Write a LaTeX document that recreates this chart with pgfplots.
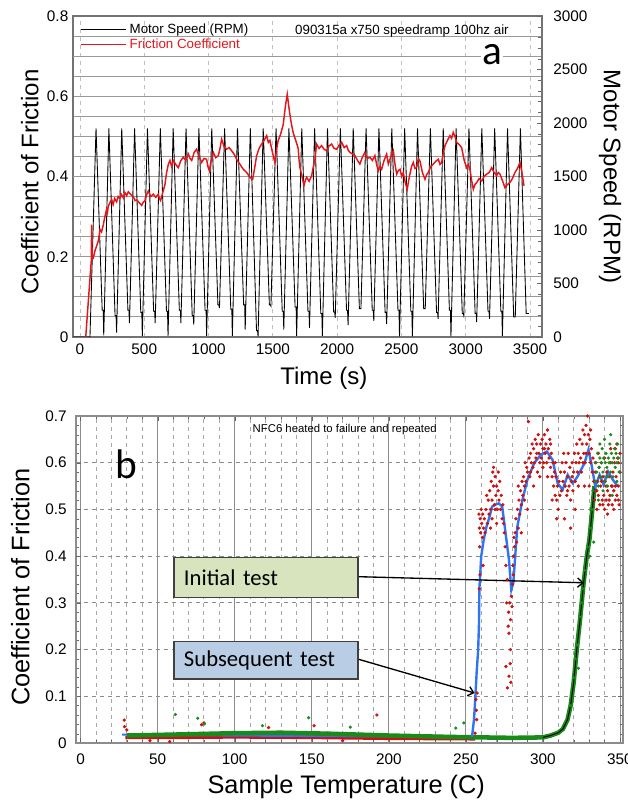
\documentclass[border=0pt]{standalone}
\usepackage{pgfplots}
\pgfplotsset{compat=1.18}
\usepackage{fontspec}
\setmainfont{Liberation Sans}
\newfontfamily\calibri{Carlito}
\usetikzlibrary{arrows.meta}
\definecolor{frred}{HTML}{E3161B}
\definecolor{rdot}{HTML}{CC1111}
\definecolor{gdot}{HTML}{1A8A1A}
\definecolor{bline}{HTML}{2F74F2}
\definecolor{boxgreen}{HTML}{D7E4BD}
\definecolor{boxblue}{HTML}{B9CDE5}
\definecolor{boxedge}{HTML}{404040}
\pgfplotsset{
  every axis/.append style={
    /pgf/number format/assume math mode=true,
    /pgf/number format/1000 sep={},
    scaled ticks=false,
    tick label style={font=\fontsize{11.5}{13}\selectfont},
    tick align=inside,
  },
}
\begin{document}
\begin{tikzpicture}
\useasboundingbox (0,0) rectangle (471pt,603pt);

% ---------- panel a: frame, grid, labels ----------
\begin{axis}[
    at={(54.75pt,350.25pt)}, anchor=south west, scale only axis,
    width=351.75pt, height=240.75pt,
    xmin=-54, xmax=3593, ymin=0, ymax=0.8,
    xtick={0,500,...,3500}, ytick={0,0.2,0.4,0.6,0.8},
    minor y tick num=3,
    xmajorgrids, ymajorgrids, yminorgrids,
    major x grid style={dashed, black!25, line width=0.6pt},
    major y grid style={black!40, line width=0.8pt},
    minor y grid style={black!40, line width=0.8pt},
    extra y ticks={0.4,0.7}, extra y tick labels={},
    extra y tick style={grid=major, major grid style={black!80, line width=0.9pt}},
    xtick pos=bottom, ytick pos=left, major tick length=0pt, minor tick length=0pt,
    axis line style={black!55, line width=0.8pt},
    xticklabel style={yshift=-1.5pt},
    xlabel={Time (s)}, ylabel={Coefficient of Friction},
    every axis x label/.style={at={(axis description cs:0.535,-0.128)}, anchor=center, font=\fontsize{18}{20}\selectfont},
    every axis y label/.style={at={(axis description cs:-0.092,0.483)}, anchor=center, rotate=90, font=\fontsize{18}{20}\selectfont},
    legend style={at={(axis description cs:0.012,0.99)}, anchor=north west, draw=none, fill=none,
      font=\fontsize{10}{11}\selectfont, row sep=-1.5pt, inner sep=1pt},
    legend cell align=left,
    legend image code/.code={\draw[#1] (0pt,0pt) -- (34pt,0pt);},
]
\addlegendimage{black, line width=0.8pt}
\addlegendimage{frred, line width=1.1pt}
\legend{Motor Speed (RPM), \textcolor{frred}{Friction Coefficient}}
\node[font=\fontsize{10}{11}\selectfont] at (axis cs:2504,0.762) {090315a x750 speedramp 100hz air};
\node[font=\calibri\fontsize{31}{32}\selectfont, fill=white, inner sep=1pt] at (axis cs:3204,0.703) {a};
\end{axis}

% ---------- panel a: motor speed (right axis) ----------
\begin{axis}[
    at={(54.75pt,350.25pt)}, anchor=south west, scale only axis,
    width=351.75pt, height=240.75pt,
    xmin=-54, xmax=3593, ymin=0, ymax=3000,
    axis y line*=right, axis x line=none,
    ytick={0,500,...,3000}, minor y tick num=4,
    major tick length=4pt, minor tick length=3pt,
    tick style={black!60},
    axis line style={black!55, line width=0.8pt},
    yticklabel style={xshift=5pt},
    ylabel={Motor Speed (RPM)},
    every axis y label/.style={at={(axis description cs:1.145,0.5)}, anchor=center, rotate=-90, font=\fontsize{18}{20}\selectfont},
]
\addplot[black, line width=0.65pt] coordinates {
 (-54,0) (0,0) (78,0) (125,1950)
 (173,250)(181,250)(185,15)(225,1950)
 (273,200)(281,200)(285,40)(325,1950)
 (373,250)(381,250)(385,130)(425,1950)
 (473,230)(481,230)(485,10)(525,1950)
 (573,240)(581,240)(585,130)(625,1950)
 (673,240)(681,240)(685,10)(725,1950)
 (773,250)(781,250)(785,130)(825,1950)
 (873,200)(881,200)(885,115)(925,1950)
 (973,250)(981,250)(985,10)(1025,1950)
 (1073,300)(1081,300)(1085,270)(1125,1950)
 (1173,260)(1181,260)(1185,10)(1225,1950)
 (1273,300)(1281,300)(1285,70)(1325,1950)
 (1373,60)(1381,60)(1385,5)(1425,1950)
 (1473,300)(1481,300)(1485,290)(1525,1950)
 (1573,240)(1581,240)(1585,70)(1625,1950)
 (1673,280)(1681,280)(1685,10)(1725,1950)
 (1773,240)(1781,240)(1785,85)(1825,1950)
 (1873,220)(1881,220)(1885,10)(1925,1950)
 (1973,234)(1981,234)(1985,180)(2025,1950)
 (2073,250)(2081,250)(2085,110)(2125,1950)
 (2173,265)(2181,265)(2185,265)(2225,1950)
 (2273,250)(2281,250)(2285,150)(2325,1950)
 (2373,230)(2381,230)(2385,120)(2425,1950)
 (2473,250)(2481,250)(2485,5)(2525,1950)
 (2573,240)(2581,240)(2585,5)(2625,1950)
 (2673,265)(2681,265)(2685,265)(2725,1950)
 (2773,230)(2781,230)(2785,170)(2825,1950)
 (2873,250)(2881,250)(2885,5)(2925,1950)
 (2973,218)(2981,218)(2985,200)(3025,1950)
 (3073,220)(3081,220)(3085,140)(3125,1950)
 (3173,240)(3181,240)(3185,170)(3225,1950)
 (3273,240)(3281,240)(3285,10)(3325,1950)
 (3373,187)(3381,187)(3385,187)(3425,1950)
 (3470,220)(3490,220)
};
\end{axis}

% ---------- panel a: friction coefficient ----------
\begin{axis}[
    at={(54.75pt,350.25pt)}, anchor=south west, scale only axis,
    width=351.75pt, height=240.75pt,
    xmin=-54, xmax=3593, ymin=0, ymax=0.8, hide axis,
]
\addplot[frred, line width=1.1pt] coordinates {
 (45,0) (88,0.19) (91,0.28) (95,0.2) (104,0.197) (117,0.215) (130,0.227) (143,0.24)
 (156,0.268) (168,0.262) (180,0.277) (194,0.3) (207,0.318) (214,0.31) (220,0.325)
 (233,0.335) (246,0.343) (258,0.33) (270,0.345) (285,0.337) (297,0.35) (310,0.345)
 (323,0.355) (337,0.347) (350,0.36) (363,0.352) (376,0.362) (395,0.355) (415,0.35)
 (428,0.34) (441,0.342) (460,0.335) (480,0.328) (493,0.336) (506,0.339) (519,0.355)
 (532,0.364) (550,0.35) (570,0.356) (590,0.348) (609,0.356) (618,0.345) (627,0.34)
 (644,0.36) (661,0.38) (674,0.41) (687,0.43) (700,0.44) (713,0.425) (726,0.44)
 (745,0.43) (765,0.422) (785,0.44) (804,0.448) (823,0.44) (843,0.456) (856,0.445)
 (869,0.44) (888,0.46) (907,0.468) (926,0.45) (946,0.435) (965,0.445) (985,0.443)
 (995,0.425) (1006,0.414) (1020,0.44) (1037,0.46) (1056,0.447) (1076,0.452) (1089,0.47)
 (1102,0.493) (1120,0.475) (1141,0.468) (1160,0.472) (1180,0.464) (1200,0.455)
 (1218,0.443) (1245,0.43) (1270,0.418) (1296,0.41) (1322,0.398) (1343,0.393)
 (1358,0.42) (1374,0.452) (1393,0.47) (1413,0.481) (1432,0.49) (1452,0.502) (1465,0.485)
 (1477,0.49) (1497,0.46) (1516,0.435) (1530,0.47) (1542,0.49) (1560,0.505) (1581,0.53)
 (1592,0.56) (1600,0.58) (1612,0.605) (1622,0.58) (1630,0.56) (1645,0.53) (1659,0.508)
 (1678,0.49) (1697,0.47) (1704,0.44) (1711,0.422) (1727,0.4) (1742,0.377) (1752,0.39)
 (1763,0.398) (1782,0.388) (1802,0.402) (1815,0.425) (1828,0.443) (1840,0.481)
 (1860,0.47) (1879,0.477) (1898,0.468) (1918,0.464) (1937,0.476) (1957,0.481)
 (1976,0.47) (1996,0.468) (2015,0.478) (2035,0.485) (2055,0.472) (2074,0.477) (2087,0.465)
 (2100,0.46) (2119,0.456) (2138,0.452) (2158,0.44) (2177,0.431) (2196,0.448) (2216,0.46)
 (2235,0.445) (2255,0.448) (2274,0.44) (2294,0.452) (2307,0.43) (2320,0.414) (2333,0.425)
 (2346,0.418) (2365,0.44) (2385,0.456) (2398,0.431) (2418,0.45) (2437,0.464) (2450,0.43)
 (2463,0.406) (2476,0.415) (2489,0.418) (2502,0.4) (2514,0.41) (2530,0.385) (2545,0.368)
 (2556,0.39) (2566,0.406) (2579,0.425) (2592,0.435) (2605,0.42) (2618,0.422) (2631,0.445)
 (2644,0.439) (2663,0.41) (2683,0.393) (2696,0.405) (2709,0.41) (2728,0.425) (2748,0.431)
 (2767,0.438) (2787,0.443) (2800,0.43) (2813,0.435) (2826,0.46) (2839,0.477) (2858,0.49)
 (2877,0.502) (2890,0.495) (2903,0.51) (2916,0.5) (2929,0.485) (2948,0.48) (2968,0.472)
 (2988,0.44) (3007,0.422) (3020,0.43) (3033,0.418) (3046,0.39) (3059,0.368) (3072,0.38)
 (3085,0.385) (3104,0.395) (3124,0.389) (3143,0.4) (3163,0.406) (3182,0.41) (3202,0.422)
 (3221,0.41) (3240,0.402) (3253,0.41) (3266,0.406) (3285,0.39) (3305,0.372) (3324,0.38)
 (3344,0.385) (3363,0.395) (3383,0.41) (3402,0.42) (3422,0.435) (3437,0.41) (3453,0.377)
};
\end{axis}

% ---------- panel b ----------
\begin{axis}[
    at={(57pt,45.75pt)}, anchor=south west, scale only axis,
    width=410.25pt, height=245.25pt,
    xmin=-3, xmax=352, ymin=0, ymax=0.7,
    xtick={0,50,...,350}, ytick={0,0.1,...,0.7},
    minor x tick num=4, minor y tick num=4,
    xmajorgrids, xminorgrids, ymajorgrids,
    major x grid style={black!45, line width=0.6pt},
    minor x grid style={dashed, black!35, line width=0.6pt},
    major y grid style={dashed, black!45, line width=0.6pt},
    extra y ticks={0.4}, extra y tick labels={},
    extra y tick style={grid=major, major grid style={dashed, black!75, line width=0.7pt}},
    major tick length=3.5pt, minor tick length=2.5pt,
    tick style={black!60},
    axis line style={black!45, line width=0.8pt},
    yticklabel style={xshift=-3.5pt},
    xticklabel style={yshift=-4.5pt},
    xlabel={Sample Temperature (C)}, ylabel={Coefficient of Friction},
    every axis x label/.style={at={(axis description cs:0.494,-0.135)}, anchor=center, font=\fontsize{19}{21}\selectfont},
    every axis y label/.style={at={(axis description cs:-0.102,0.477)}, anchor=center, rotate=90, font=\fontsize{19}{21}\selectfont},
]
% red raw data, subsequent test: dense baseline band and scattered points
\addplot[rdot, line width=2.6pt] coordinates {
 (29,0.012) (60,0.012) (100,0.013) (150,0.012) (200,0.010) (256,0.009)
};
\addplot[only marks, mark=*, mark size=1.05pt, rdot] coordinates {
 (28.3,0.049)(28.5,0.035)(30,0.028)(78.5,0.039)(80,0.043)(122,0.033)(151.5,0.037)(192.3,0.06)
 (57.8,0.003)(45,0.005)(170,0.005)(256.5,0.093)(257.3,0.107)(256,0.021)(257,0.05)(256.8,0.07)
 (258.5,0.49)(258.8,0.46)(259,0.42)(259.3,0.48)(259.6,0.45)(260,0.5)(260.3,0.47)(260.7,0.44)
 (261,0.49)(261.5,0.46)(262,0.48)(262.5,0.45)(263,0.5)(258.7,0.33)(259.2,0.36)(261.2,0.38)
 (264,0.47)(264.5,0.52)(265,0.49)(265.5,0.54)(266,0.5)(266.5,0.56)(267,0.52)(267.5,0.58)
 (268,0.55)(268.5,0.51)(269,0.57)(269.5,0.53)(270,0.55)(270.5,0.5)(271,0.54)(271.5,0.52)
 (272,0.56)(272.5,0.5)(273,0.53)(273.5,0.48)(274,0.51)(274.5,0.47)(275,0.45)(275.5,0.42)
 (276,0.38)(266,0.46)(270,0.47)(263.5,0.53)(267,0.48)(269,0.5)(271,0.58)(268,0.59)
 (276,0.164)(277,0.118)(278,0.143)(278,0.235)(279,0.264)(280,0.292)(279.6,0.314)(279,0.2)
 (277.5,0.25)(278.5,0.3)(280.2,0.34)(280.8,0.36)(281,0.4)(281.5,0.42)(276.5,0.3)(277,0.35)
 (277.8,0.28)(279.2,0.13)(278.8,0.17)(280.5,0.38)(281.2,0.44)
 (282,0.45)(282.5,0.48)(283,0.43)(283.5,0.5)(284,0.46)(284.5,0.52)(285,0.49)(285.5,0.54)
 (286,0.51)(286.5,0.56)(287,0.53)(287.5,0.57)(288,0.55)(288.5,0.6)(289,0.56)(289.5,0.59)
 (290,0.58)(290.6,0.688)(291,0.61)(291.5,0.57)(292,0.62)(292.5,0.6)(293,0.64)(293.5,0.59)
 (294,0.63)(294.5,0.6)(295,0.65)(295.5,0.61)(296,0.64)(296.5,0.58)(297,0.66)(297.5,0.62)
 (298,0.6)(298.5,0.64)(299,0.61)(299.5,0.65)(300,0.63)(286,0.45)(290,0.5)(294,0.55)(298,0.57)
 (284,0.55)(288,0.52)(292,0.58)(296,0.62)(300,0.59)
 (300.5,0.6)(301,0.66)(301.5,0.62)(302,0.64)(302.5,0.6)(303,0.67)(303.5,0.63)(304,0.61)
 (304.5,0.65)(305,0.59)(305.5,0.62)(306,0.57)(306.5,0.6)(307,0.55)(307.5,0.58)(308,0.53)
 (308.5,0.57)(309,0.52)(309.5,0.55)(310,0.5)(310.5,0.56)(311,0.53)(311.5,0.58)(312,0.54)
 (303,0.57)(306,0.52)(309,0.48)(301,0.63)(305,0.64)(308,0.6)
 (312.5,0.6)(313,0.56)(313.5,0.62)(314,0.58)(314.5,0.55)(315,0.6)(315.5,0.53)(316,0.57)
 (316.5,0.62)(317,0.55)(317.5,0.59)(318,0.52)(318.5,0.56)(319,0.6)(319.5,0.54)(320,0.58)
 (320.5,0.62)(321,0.56)(321.5,0.6)(322,0.64)(322.5,0.58)(323,0.62)(323.5,0.6)(324,0.65)
 (324.5,0.61)(325,0.58)(314,0.48)(318,0.46)(321,0.5)(316,0.54)(319,0.57)(323,0.55)
 (325.5,0.64)(326,0.67)(326.5,0.62)(327,0.66)(327.5,0.6)(328,0.68)(328.5,0.64)(329,0.7)
 (329.5,0.66)(330,0.62)(330.5,0.65)(331,0.6)(331.5,0.63)(332,0.58)(332.5,0.61)(333,0.56)
 (327,0.55)(330,0.55)(326,0.6)(328,0.62)(331,0.67)
 (333.5,0.52)(334,0.58)(334.5,0.54)(335,0.5)(335.5,0.56)(336,0.53)(336.5,0.59)(337,0.51)
 (337.5,0.55)(338,0.6)(338.5,0.52)(339,0.57)(339.5,0.53)(340,0.5)(340.5,0.56)(341,0.52)
 (341.5,0.58)(342,0.54)(342.5,0.51)(343,0.57)(343.5,0.53)(344,0.6)(344.5,0.55)(345,0.51)
 (345.5,0.58)(346,0.54)(346.5,0.6)(347,0.52)(347.5,0.57)(348,0.53)(348.5,0.61)(349,0.55)
 (349.5,0.51)(350,0.58)(336,0.62)(340,0.61)(344,0.63)(348,0.64)(342,0.49)(346,0.5)
 (338,0.56)(334,0.6)(350,0.62)(349,0.6)(347,0.63)(335,0.54)(337,0.57)(339,0.51)(341,0.55)
 (343,0.52)(345,0.55)(347,0.55)(349,0.52)
};
% smoothed subsequent test, baseline part
\addplot[bline, line width=1.6pt] coordinates {
 (27,0.018)(60,0.017)(100,0.016)(150,0.015)(200,0.014)(254,0.013)
};
% green raw data, initial test
\addplot[gdot, line width=3.4pt] coordinates {
 (30,0.016)(60,0.018)(100,0.021)(130,0.022)(160,0.020)(200,0.016)(240,0.013)(280,0.011)
 (300,0.012)(305,0.016)(310,0.022)(313,0.03)(316,0.05)(318,0.08)(320,0.13)(322,0.2)
 (324,0.26)(326.5,0.345)(328.5,0.4)(330.2,0.435)(331.8,0.49)(333.5,0.55)
};
\addplot[only marks, mark=*, mark size=1pt, gdot] coordinates {
 (61.5,0.061)(76,0.053)(80.4,0.041)(118,0.037)(148,0.054)(175,0.034)(243.5,0.032)(248.7,0.043)
 (318,0.08)(320,0.14)(321,0.18)(322.5,0.21)(324,0.27)(325,0.3)(327,0.37)(329,0.42)
 (330.5,0.4)(331,0.46)(332,0.5)(326,0.33)(323,0.16)(333,0.43)(332.5,0.54)
 (334,0.56)(334.5,0.6)(335,0.58)(335.5,0.62)(336,0.55)(336.5,0.59)(337,0.61)(337.5,0.57)
 (338,0.6)(338.5,0.63)(339,0.58)(339.5,0.61)(340,0.56)(340.5,0.6)(341,0.62)(341.5,0.59)
 (342,0.57)(342.5,0.61)(343,0.6)(343.5,0.64)(344,0.58)(344.5,0.62)(345,0.6)(345.5,0.57)
 (346,0.61)(346.5,0.63)(347,0.59)(347.5,0.62)(348,0.6)(348.5,0.64)(349,0.61)(349.5,0.58)
 (336,0.52)(339,0.54)(342,0.55)(345,0.53)(348,0.56)(337,0.64)(340,0.65)(344,0.66)
};
% smoothed initial test
\addplot[black, line width=0.7pt] coordinates {
 (300,0.012)(305,0.016)(310,0.022)(313,0.03)(316,0.05)(318,0.08)(320,0.13)(322,0.2)
 (324,0.26)(326.5,0.345)(328.5,0.4)(330.2,0.435)(331.8,0.49)(333.5,0.55)
};
% smoothed subsequent test, rise and plateau
\addplot[bline, line width=1.8pt] coordinates {
 (254,0.013)(255.3,0.05)(256.2,0.1)(257,0.15)(258,0.2)(258.5,0.25)(258.8,0.331)(260,0.4)
 (261.6,0.435)(263.4,0.463)(265,0.48)(267.1,0.506)(269,0.51)(271.4,0.513)(273.6,0.506)
 (275.8,0.449)(278,0.392)(279.5,0.328)(280.8,0.342)(283.4,0.463)(286.7,0.52)(289.9,0.563)
 (294.3,0.599)(298.7,0.617)(302.6,0.624)(306.3,0.606)(309.6,0.556)(312.8,0.542)
 (316.1,0.574)(319.4,0.556)(322.6,0.571)(327,0.599)(329.6,0.628)(331.8,0.592)(334,0.549)
 (336.8,0.574)(339.4,0.553)(342.3,0.581)(345.5,0.563)(348.8,0.549)
};
\node[font=\fontsize{8.5}{10}\selectfont] at (axis cs:171.4,0.670) {NFC6 heated to failure and repeated};
\node[font=\calibri\fontsize{31}{32}\selectfont] at (axis cs:29.4,0.597) {b};
\node[draw=boxedge, line width=0.9pt, fill=boxgreen, anchor=north west, minimum width=138pt,
  minimum height=30pt, text width=123pt, inner xsep=7.5pt, align=left,
  font=\calibri\fontsize{17}{18}\selectfont] (ini) at (axis cs:60.2,0.398) {Initial test};
\node[draw=boxedge, line width=0.9pt, fill=boxblue, anchor=north west, minimum width=138pt,
  minimum height=28pt, text width=123pt, inner xsep=7.5pt, align=left,
  font=\calibri\fontsize{17}{18}\selectfont] (sub) at (axis cs:60.2,0.218) {Subsequent test};
\draw[line width=1pt, -{Straight Barb[length=4pt, width=7pt]}] (axis cs:180.6,0.356) -- (axis cs:326.6,0.343);
\draw[line width=1pt, -{Straight Barb[length=4pt, width=7pt]}] (axis cs:180.6,0.179) -- (axis cs:255.7,0.107);
\end{axis}
\end{tikzpicture}
\end{document}
